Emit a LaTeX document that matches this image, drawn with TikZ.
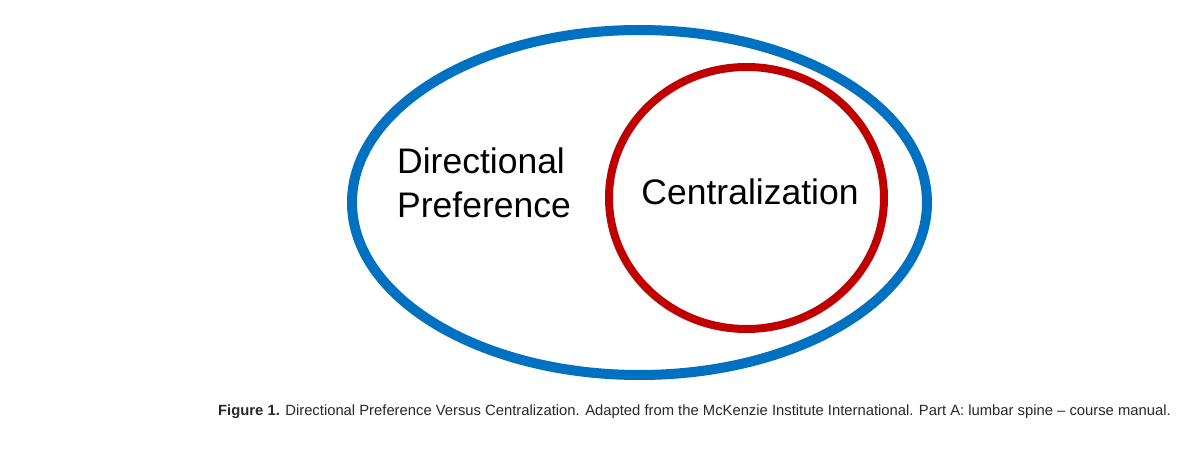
\documentclass[tikz,border=0pt]{standalone}
\usepackage{fontspec}
\setmainfont{Liberation Sans}
\usepackage{xcolor}
\usepackage{tikz}
\usetikzlibrary{positioning}
\definecolor{DPBlue}{RGB}{0,112,192}
\definecolor{CRed}{RGB}{192,0,0}
\definecolor{CapGray}{RGB}{40,40,40}
\tikzset{
  outerring/.style={draw=DPBlue, line width=10pt},
  innerring/.style={draw=CRed, line width=8pt},
  biglabel/.style={font=\fontsize{35.5}{44}\selectfont, align=left, inner sep=0pt, text=black},
  captext/.style={font=\fontsize{14.8}{17}\selectfont, inner sep=0pt, text=CapGray, anchor=base west},
}
\begin{document}
\begin{tikzpicture}[x=1pt, y=-1pt]
  \useasboundingbox[fill=white] (0,0) rectangle (1200,468);
  % the two sets
  \draw[outerring] (639.5,202.5) ellipse [x radius=287.5, y radius=172.5];
  \draw[innerring] (746.5,198) ellipse [x radius=137.5, y radius=131];
  % labels
  \node[biglabel, anchor=west] (dirpref) at (397,183) {Directional\\Preference};
  \node[biglabel] (central) at (750,192) {Centralization};
  % caption
  \node[captext] (caption) at (218,415) {\textbf{Figure 1.} Directional Preference Versus Centralization. Adapted from the McKenzie Institute International. Part A: lumbar spine -- course manual.};
\end{tikzpicture}
\end{document}
